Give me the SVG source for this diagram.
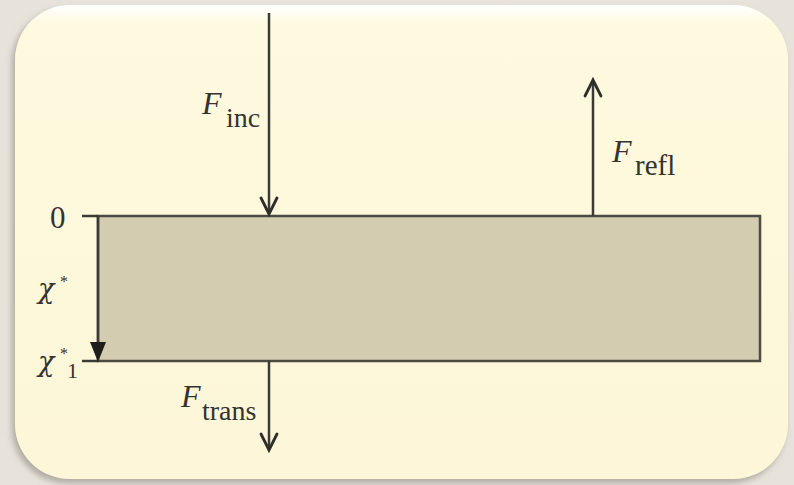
<svg xmlns="http://www.w3.org/2000/svg" width="794" height="485" viewBox="0 0 794 485">
  <style>
    .ln { stroke: #3b3a35; stroke-width: 2.5; fill: none; }
    .head { stroke: #2f2e2a; stroke-width: 2.8; fill: none; stroke-linecap: round; stroke-linejoin: miter; }
    .txt { font-family: "Liberation Serif", "Times New Roman", serif; fill: #34332f; }
    .chi { font-family: "DejaVu Serif", serif; font-style: italic; fill: #34332f; }
    .it { font-style: italic; }
  </style>
  <defs>
    <linearGradient id="cardGrad" x1="0" y1="0" x2="0" y2="1">
      <stop offset="0" stop-color="#ffffff"/>
      <stop offset="0.04" stop-color="#fefadf"/>
      <stop offset="1" stop-color="#fdf6d8"/>
    </linearGradient>
    <filter id="shadow" x="-5%" y="-5%" width="110%" height="110%">
      <feDropShadow dx="-3" dy="4" stdDeviation="3" flood-color="#8a8478" flood-opacity="0.6"/>
    </filter>
  </defs>

  <rect x="0" y="0" width="794" height="485" fill="#e7e3db"/>

  <g id="card">
    <rect x="15" y="5" width="773" height="474" rx="55" ry="55" fill="url(#cardGrad)" filter="url(#shadow)"/>
  </g>

  <g id="slab">
    <rect x="98" y="216" width="662" height="145" fill="#d3ccb1" stroke="#4d4a42" stroke-width="2.5"/>
  </g>

  <g id="connectors">
    <line class="ln" x1="82" y1="216" x2="98" y2="216"/>
    <line class="ln" x1="82" y1="361" x2="98" y2="361"/>
    <line class="ln" x1="98" y1="216" x2="98" y2="345"/>
    <polygon points="90,342 106,342 98,362" fill="#1f1e1b"/>
    <line class="ln" x1="269" y1="13" x2="269" y2="214"/>
    <polyline class="head" points="261,198 269,214 277,198"/>
    <line class="ln" x1="593" y1="216" x2="593" y2="80"/>
    <polyline class="head" points="585,96 593,80 601,96"/>
    <line class="ln" x1="269" y1="361" x2="269" y2="450"/>
    <polyline class="head" points="261,434 269,450 277,434"/>
  </g>

  <g id="label-inc">
    <text class="txt it" x="202" y="114" font-size="32">F</text>
    <text class="txt" x="226" y="127" font-size="28">inc</text>
  </g>
  <g id="label-refl">
    <text class="txt it" x="612" y="162" font-size="32">F</text>
    <text class="txt" x="635" y="175" font-size="29">refl</text>
  </g>
  <g id="label-trans">
    <text class="txt it" x="181" y="407" font-size="32">F</text>
    <text class="txt" x="202" y="420" font-size="28">trans</text>
  </g>
  <g id="label-zero">
    <text class="txt" x="50" y="228" font-size="31">0</text>
  </g>
  <g id="label-chi">
    <text class="chi" x="38" y="298" font-size="27">χ</text>
    <text class="txt" x="60" y="287" font-size="16">*</text>
  </g>
  <g id="label-chi1">
    <text class="chi" x="38" y="371" font-size="27">χ</text>
    <text class="txt" x="60" y="359" font-size="16">*</text>
    <text class="txt" x="67" y="378" font-size="22">1</text>
  </g>
</svg>
